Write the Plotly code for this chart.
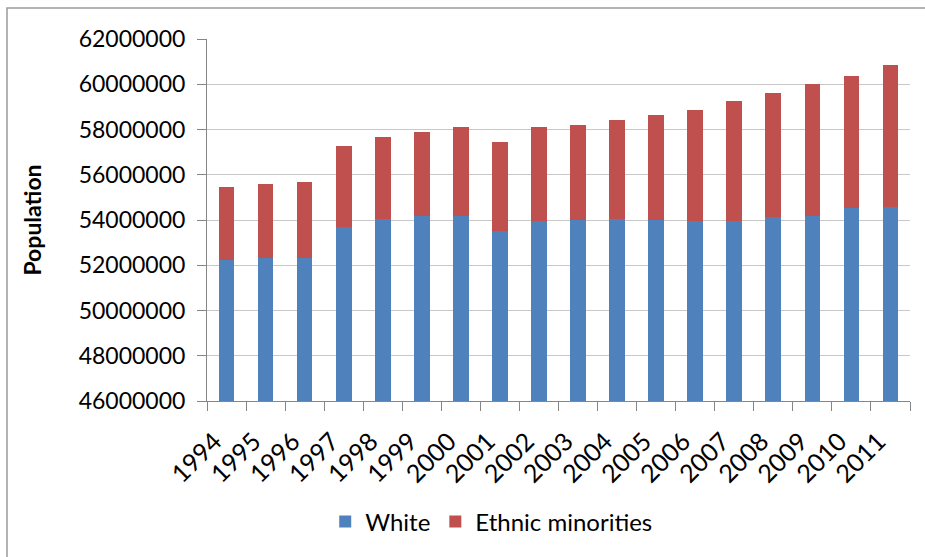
import plotly.graph_objects as go

years = ["1994", "1995", "1996", "1997", "1998", "1999", "2000", "2001", "2002",
         "2003", "2004", "2005", "2006", "2007", "2008", "2009", "2010", "2011"]
white = [52250000, 52340000, 52340000, 53680000, 54030000, 54180000, 54180000, 53500000, 53940000,
         54000000, 54030000, 54000000, 53940000, 53940000, 54120000, 54180000, 54530000, 54560000]
ethnic_minorities = [3190000, 3230000, 3340000, 3570000, 3660000, 3730000, 3950000, 3930000, 4190000,
                     4220000, 4410000, 4660000, 4940000, 5300000, 5510000, 5850000, 5850000, 6310000]
y_ticks = [46000000, 48000000, 50000000, 52000000, 54000000, 56000000, 58000000, 60000000, 62000000]

FONT = "Lato"

fig = go.Figure()
fig.add_trace(go.Bar(x=years, y=white, name="White", marker=dict(color="#4F81BD", line=dict(width=0))))
fig.add_trace(go.Bar(x=years, y=ethnic_minorities, name="Ethnic minorities",
                     marker=dict(color="#C0504D", line=dict(width=0))))

fig.update_layout(
    barmode="stack",
    bargap=0.6,
    width=925, height=557,
    margin=dict(l=207, r=15, t=39, b=156),
    paper_bgcolor="white", plot_bgcolor="white",
    font=dict(family=FONT, size=22, color="black"),
    legend=dict(orientation="h", x=0.405, xanchor="center", y=-0.334, yanchor="middle",
                font=dict(family=FONT, size=24, color="black"), itemwidth=30,
                traceorder="normal"),
    shapes=[dict(type="rect", xref="paper", yref="paper",
                 x0=-0.2845, x1=1.05, y0=-0.6, y1=1.0856,
                 line=dict(color="#9a9a9a", width=1.5), fillcolor="rgba(0,0,0,0)", layer="below")],
)
fig.update_yaxes(
    range=[46000000, 62000000], tickvals=y_ticks, tickformat="d",
    showgrid=True, gridcolor="#c8c8c8", gridwidth=1,
    showline=True, linecolor="#868686", linewidth=1,
    ticks="outside", ticklen=9, tickcolor="#868686", ticklabelstandoff=7,
    tickfont=dict(family=FONT, size=23, color="black"),
    title=dict(text="<b>Population</b>", font=dict(family=FONT, size=23, color="black"), standoff=30),
    zeroline=False,
)
fig.update_xaxes(
    tickangle=-45, showline=True, linecolor="#868686", linewidth=1,
    ticks="outside", ticklen=9, tickcolor="#868686", tickson="boundaries",
    ticklabelstandoff=15, ticklabelshift=-12,
    tickfont=dict(family=FONT, size=25, color="black"),
    showgrid=False,
)
fig.write_html("out.html")
